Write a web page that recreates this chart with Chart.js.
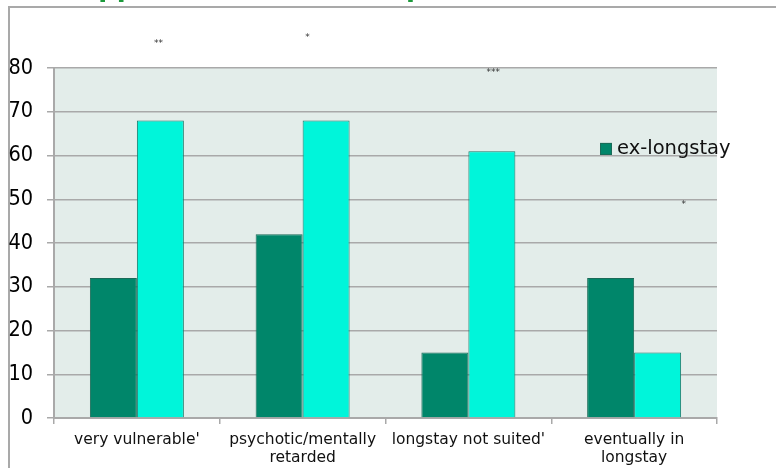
<!DOCTYPE html>
<html>
<head>
<meta charset="utf-8">
<script src="https://cdn.jsdelivr.net/npm/chart.js@4/dist/chart.umd.min.js"></script>
<style>
  html, body { margin: 0; padding: 0; background: #ffffff; }
  #wrap { width: 776px; height: 468px; position: relative; }
</style>
</head>
<body>
<div id="wrap"><canvas id="chart" width="776" height="468"></canvas></div>
<script>
// Categories (multi-line labels as arrays)
const categories = [
  "very vulnerable'",
  ["psychotic/mentally", "retarded"],
  "longstay not suited'",
  ["eventually in", "longstay"]
];

// Series values (%)
const exLongstay = [32, 42, 15, 32];
const newLongstay = [68, 68, 61, 15];

// Y axis ticks
const yTicks = [0, 10, 20, 30, 40, 50, 60, 70, 80];

// Significance markers, placed in category / value units
const sigMarks = ['**', '*', '***', '*'];
const sigCat = [0.13, 1.03, 2.15, 3.3];
const sigVal = [85.5, 87, 79, 48.7];

const titleText = 'Support needs and the placement';

const FONT = "'DejaVu Sans', Verdana, sans-serif";
const NARROW = "'Liberation Sans Narrow', 'DejaVu Sans Condensed', sans-serif";

const decorPlugin = {
  id: 'decor',
  beforeDraw(chart) {
    const { ctx, chartArea: a } = chart;
    ctx.save();
    // frame
    ctx.strokeStyle = '#a9a9a9';
    ctx.lineWidth = 2;
    ctx.strokeRect(9, 7, 800, 500);
    // plot background
    ctx.fillStyle = '#e3edea';
    ctx.fillRect(a.left, a.top, a.right - a.left, a.bottom - a.top);
    // title (top edge of page)
    ctx.fillStyle = '#1d9a3c';
    ctx.font = 'bold 26px ' + FONT;
    ctx.textBaseline = 'alphabetic';
    ctx.fillText(titleText, 61, -4);
    ctx.restore();
  },
  afterDraw(chart) {
    const { ctx, chartArea: a, scales } = chart;
    ctx.save();
    // significance markers
    ctx.fillStyle = '#333333';
    ctx.font = '9px ' + FONT;
    ctx.textAlign = 'center';
    ctx.textBaseline = 'middle';
    sigMarks.forEach((m, i) => {
      ctx.fillText(m, scales.x.getPixelForValue(sigCat[i]), scales.y.getPixelForValue(sigVal[i]));
    });
    // legend (first series)
    const ds = chart.data.datasets[0];
    const lx = a.right - 117, ly = scales.y.getPixelForValue(61.5);
    ctx.fillStyle = ds.backgroundColor;
    ctx.fillRect(lx, ly - 6, 12, 12);
    ctx.strokeStyle = '#1a6b58';
    ctx.lineWidth = 1;
    ctx.strokeRect(lx + 0.5, ly - 5.5, 11, 11);
    ctx.fillStyle = '#111111';
    ctx.font = '19.5px ' + FONT;
    ctx.textAlign = 'left';
    ctx.textBaseline = 'middle';
    ctx.fillText(ds.label, lx + 17, ly);
    ctx.restore();
  }
};

new Chart(document.getElementById('chart'), {
  type: 'bar',
  data: {
    labels: categories,
    datasets: [
      {
        label: 'ex-longstay',
        data: exLongstay,
        backgroundColor: '#00866a',
        borderColor: '#1a6b58',
        borderWidth: 1
      },
      {
        label: 'new longstay',
        data: newLongstay,
        backgroundColor: '#00f5da',
        borderColor: '#1a7a6a',
        borderWidth: 1
      }
    ]
  },
  options: {
    responsive: false,
    animation: false,
    layout: { padding: { left: 0, right: 59, top: 68, bottom: 0 } },
    plugins: {
      legend: { display: false },
      tooltip: { enabled: false }
    },
    datasets: {
      bar: { categoryPercentage: 0.567, barPercentage: 1.0 }
    },
    scales: {
      x: {
        grid: {
          offset: true,
          drawOnChartArea: false,
          drawTicks: true,
          tickLength: 6,
          color: '#a9a9a9',
          lineWidth: 1.5
        },
        border: { color: '#a9a9a9', width: 2 },
        ticks: {
          color: '#111111',
          font: { family: FONT, size: 15.5, lineHeight: 1.15 },
          padding: 7,
          maxRotation: 0,
          autoSkip: false
        },
        afterFit(axis) { axis.height = 50; }
      },
      y: {
        min: 0,
        max: 80,
        afterBuildTicks(axis) { axis.ticks = yTicks.map(v => ({ value: v })); },
        grid: {
          color: '#a9a9a9',
          lineWidth: 1.5,
          tickLength: 7
        },
        border: { color: '#a9a9a9', width: 2 },
        ticks: {
          color: '#000000',
          font: { family: NARROW, size: 21.5 },
          padding: 14
        },
        afterFit(axis) { axis.width = 54; }
      }
    }
  },
  plugins: [decorPlugin]
});
</script>
</body>
</html>
